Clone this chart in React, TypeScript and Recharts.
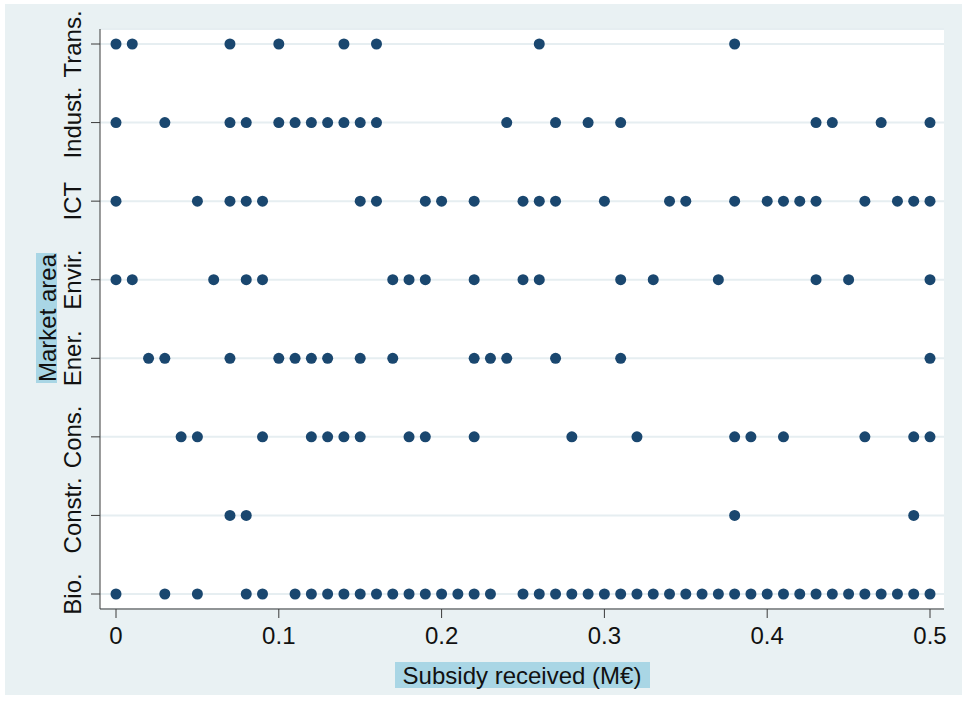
import { ScatterChart, Scatter, XAxis, YAxis, CartesianGrid } from 'recharts';

// market areas, bottom to top
const areas = ['Bio.', 'Constr.', 'Cons.', 'Ener.', 'Envir.', 'ICT', 'Indust.', 'Trans.'];

// subsidy received (M€) per area
const bio = [0, 0.03, 0.05, 0.08, 0.09, 0.11, 0.12, 0.13, 0.14, 0.15, 0.16, 0.17, 0.18, 0.19, 0.2, 0.21, 0.22, 0.23,
  0.25, 0.26, 0.27, 0.28, 0.29, 0.3, 0.31, 0.32, 0.33, 0.34, 0.35, 0.36, 0.37, 0.38, 0.39, 0.4, 0.41, 0.42, 0.43,
  0.44, 0.45, 0.46, 0.47, 0.48, 0.49, 0.5];
const constr = [0.07, 0.08, 0.38, 0.49];
const cons = [0.04, 0.05, 0.09, 0.12, 0.13, 0.14, 0.15, 0.18, 0.19, 0.22, 0.28, 0.32, 0.38, 0.39, 0.41, 0.46, 0.49, 0.5];
const ener = [0.02, 0.03, 0.07, 0.1, 0.11, 0.12, 0.13, 0.15, 0.17, 0.22, 0.23, 0.24, 0.27, 0.31, 0.5];
const envir = [0, 0.01, 0.06, 0.08, 0.09, 0.17, 0.18, 0.19, 0.22, 0.25, 0.26, 0.31, 0.33, 0.37, 0.43, 0.45, 0.5];
const ict = [0, 0.05, 0.07, 0.08, 0.09, 0.15, 0.16, 0.19, 0.2, 0.22, 0.25, 0.26, 0.27, 0.3, 0.34, 0.35, 0.38, 0.4,
  0.41, 0.42, 0.43, 0.46, 0.48, 0.49, 0.5];
const indust = [0, 0.03, 0.07, 0.08, 0.1, 0.11, 0.12, 0.13, 0.14, 0.15, 0.16, 0.24, 0.27, 0.29, 0.31, 0.43, 0.44, 0.47, 0.5];
const trans = [0, 0.01, 0.07, 0.1, 0.14, 0.16, 0.26, 0.38];

const xTicks = [0, 0.1, 0.2, 0.3, 0.4, 0.5];
const yTicks = [1, 2, 3, 4, 5, 6, 7, 8];

const rows = [bio, constr, cons, ener, envir, ict, indust, trans];
const points = rows.flatMap((vals, i) => vals.map((x) => ({ x, y: i + 1 })));

const font = '"Liberation Sans", Arial, Helvetica, sans-serif';
const navy = '#1a476f';
const axisColor = '#3a3a3a';

const YTick = (props: any) => {
  const { y, payload } = props;
  return (
    <text
      transform={`translate(72, ${y}) rotate(-90)`}
      textAnchor="middle"
      dominantBaseline="central"
      fontSize={24}
      fontFamily={font}
      fill="#111"
    >
      {areas[payload.value - 1]}
    </text>
  );
};

const XTick = (props: any) => {
  const { x, payload } = props;
  return (
    <text x={x} y={635} textAnchor="middle" dominantBaseline="central" fontSize={24} fontFamily={font} fill="#111">
      {String(payload.value)}
    </text>
  );
};

const XTitle = () => (
  <g>
    <rect x={395} y={662} width={255} height={26} fill="#a9d6e5" />
    <text x={522} y={675} textAnchor="middle" dominantBaseline="central" fontSize={24} fontFamily={font} fill="#111">
      Subsidy received (M€)
    </text>
  </g>
);

const YTitle = () => (
  <g>
    <rect x={36} y={253} width={21} height={130} fill="#a9d6e5" />
    <text
      transform="translate(47, 318) rotate(-90)"
      textAnchor="middle"
      dominantBaseline="central"
      fontSize={24}
      fontFamily={font}
      fill="#111"
    >
      Market area
    </text>
  </g>
);

export default function App() {
  return (
    <div style={{ position: 'absolute', left: 0, top: 0, width: 962, height: 704, background: '#fff' }}>
      <div style={{ position: 'absolute', left: 5, top: 4, width: 957, height: 691, background: '#e9f1f3' }} />
      <div style={{ position: 'absolute', left: 0, top: 0 }}>
        <ScatterChart width={962} height={704} margin={{ top: 29, right: 18, bottom: 0, left: 0 }}>
          <CartesianGrid vertical={false} fill="#fff" stroke="#e6eef1" strokeWidth={2} />
          <XAxis
            type="number"
            dataKey="x"
            domain={[0, 0.5]}
            ticks={xTicks}
            padding={{ left: 16, right: 14 }}
            height={95}
            tickSize={9}
            stroke={axisColor}
            tick={<XTick />}
            label={<XTitle />}
          />
          <YAxis
            type="number"
            dataKey="y"
            domain={[1, 8]}
            ticks={yTicks}
            padding={{ top: 15, bottom: 15 }}
            width={100}
            tickSize={9}
            stroke={axisColor}
            tick={<YTick />}
            label={<YTitle />}
          />
          <Scatter
            data={points}
            isAnimationActive={false}
            shape={(p: any) => <circle cx={p.cx} cy={p.cy} r={5.5} fill={navy} />}
          />
        </ScatterChart>
      </div>
    </div>
  );
}
